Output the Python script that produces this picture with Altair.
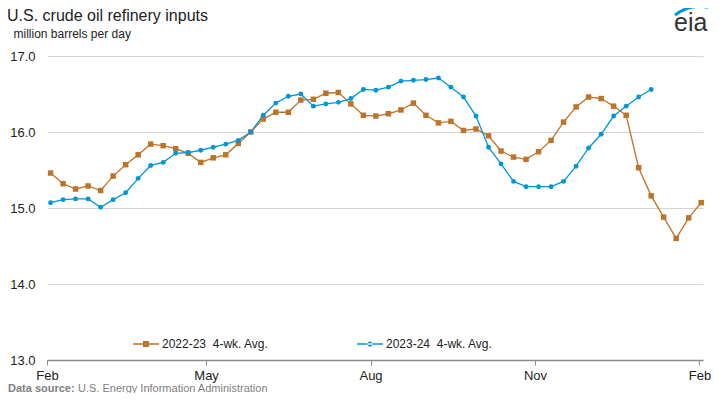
import altair as alt
import pandas as pd

# ---------------- data ----------------
title_text = "U.S. crude oil refinery inputs"
units_text = "million barrels per day"
source_bold = "Data source:"
source_text = "U.S. Energy Information Administration"
logo_text = "eia"
series_names = ["2022-23\u00a0 4-wk. Avg.", "2023-24\u00a0 4-wk. Avg."]
first_week = "2023-02-03"
y_ticks = [13, 14, 15, 16, 17]

brown_vals = [15.46, 15.32, 15.25, 15.29, 15.23, 15.42, 15.57, 15.70, 15.84, 15.82,
              15.78, 15.72, 15.60, 15.66, 15.70, 15.85, 16.00, 16.17, 16.26, 16.26,
              16.42, 16.43, 16.51, 16.52, 16.37, 16.22, 16.21, 16.24, 16.29, 16.38,
              16.22, 16.12, 16.14, 16.02, 16.04, 15.95, 15.75, 15.67, 15.64, 15.74,
              15.89, 16.13, 16.33, 16.46, 16.44, 16.34, 16.22, 15.53, 15.16, 14.88,
              14.60, 14.87, 15.07]

blue_vals = [15.07, 15.11, 15.12, 15.12, 15.01, 15.11, 15.20, 15.39, 15.56, 15.60,
             15.72, 15.73, 15.76, 15.80, 15.84, 15.89, 16.00, 16.22, 16.38, 16.47,
             16.50, 16.34, 16.37, 16.39, 16.44, 16.56, 16.55, 16.59, 16.67, 16.68,
             16.69, 16.71, 16.59, 16.46, 16.21, 15.80, 15.58, 15.35, 15.28, 15.28,
             15.28, 15.35, 15.55, 15.79, 15.97, 16.21, 16.34, 16.46, 16.56]

# ---------------- styling ----------------
BROWN = "#BD732A"
BLUE = "#0096D7"
FONT = "Liberation Sans"

dates_b = pd.date_range(first_week, periods=len(brown_vals), freq="7D").strftime("%Y-%m-%d")
dates_u = pd.date_range(first_week, periods=len(blue_vals), freq="7D").strftime("%Y-%m-%d")
df_b = pd.DataFrame({"date": dates_b, "value": brown_vals, "series": series_names[0]})
df_u = pd.DataFrame({"date": dates_u, "value": blue_vals, "series": series_names[1]})


def dt(y, m, d):
    return alt.DateTime(year=y, month=m, date=d, utc=True)


X = alt.X(
    "date:T",
    title=None,
    scale=alt.Scale(type="utc", domain=[dt(2023, 2, 1), dt(2024, 2, 3)]),
    axis=alt.Axis(
        values=[dt(2023, 2, 1), dt(2023, 5, 1), dt(2023, 8, 1), dt(2023, 11, 1), dt(2024, 2, 1)],
        format="%b", grid=False, domainColor="#8c8c8c", domainWidth=1.5,
        tickColor="#8c8c8c", tickSize=5, labelPadding=4, labelFontSize=13,
        labelColor="#222222", labelFont=FONT, labelFlush=False,
    ),
)
Y = alt.Y(
    "value:Q",
    scale=alt.Scale(domain=[13, 17]),
    axis=alt.Axis(
        values=y_ticks, format=".1f", domain=False, ticks=False, labelPadding=12,
        labelFontSize=13, labelColor="#222222", labelFont=FONT,
        gridColor="#d4d4d4", gridWidth=1,
        title=units_text, titleAngle=0, titleAlign="left", titleBaseline="alphabetic",
        titleX=-34, titleY=-19, titleFontSize=12, titleFontWeight="normal",
        titleFont=FONT, titleColor="#222222",
    ),
)

line_b = alt.Chart(df_b).mark_line(color=BROWN, strokeWidth=1.3).encode(x=X, y=Y)
pts_b = alt.Chart(df_b).mark_square(color=BROWN, size=30, opacity=1).encode(x=X, y=Y)
line_u = alt.Chart(df_u).mark_line(color=BLUE, strokeWidth=1.3).encode(x=X, y=Y)
pts_u = alt.Chart(df_u).mark_circle(color=BLUE, size=24, opacity=1).encode(x=X, y=Y)

sq_path = "M-1,-0.05H1V0.05H-1Z M-0.23,-0.23H0.23V0.23H-0.23Z"
ci_path = "M-1,-0.05H1V0.05H-1Z M-0.2,0A0.2,0.2,0,1,0,0.2,0A0.2,0.2,0,1,0,-0.2,0Z"

leg_props = dict(
    title=None, orient="none", legendX=86, legendY=275, direction="horizontal",
    columns=2, columnPadding=88, symbolSize=676, symbolStrokeWidth=0,
    symbolOpacity=1, labelFontSize=12, labelFont=FONT, labelColor="#222222",
    labelOffset=3, padding=0,
)
# invisible marks (size 0) that only carry the legend
legend_layer = alt.Chart(pd.DataFrame({"series": series_names})).mark_point(
    filled=True, opacity=1, size=0
).encode(
    x=alt.value(100), y=alt.value(250),
    color=alt.Color("series:N", scale=alt.Scale(domain=series_names, range=[BROWN, BLUE]),
                    legend=alt.Legend(**leg_props)),
    shape=alt.Shape("series:N", scale=alt.Scale(domain=series_names, range=[sq_path, ci_path]),
                    legend=alt.Legend(**leg_props)),
)

src1 = alt.Chart(pd.DataFrame({"t": [source_bold]})).mark_text(
    align="left", baseline="alphabetic", font=FONT, fontSize=11, fontWeight="bold", color="#808080"
).encode(text="t:N", x=alt.value(-39), y=alt.value(336))
src2 = alt.Chart(pd.DataFrame({"t": [source_text]})).mark_text(
    align="left", baseline="alphabetic", font=FONT, fontSize=11, color="#808080"
).encode(text="t:N", x=alt.value(31), y=alt.value(336))

logo = alt.Chart(pd.DataFrame({"t": [logo_text]})).mark_text(
    align="left", baseline="alphabetic", font=FONT, fontSize=25, color="#333333"
).encode(text="t:N", x=alt.value(627), y=alt.value(-25))
swoosh = alt.Chart(pd.DataFrame({"a": [0]})).mark_arc(
    color=BLUE, radius=39, radius2=42, theta=5.62, theta2=6.48
).encode(x=alt.value(653), y=alt.value(-9))

chart = alt.layer(
    line_b, line_u, pts_b, pts_u, legend_layer, src1, src2, logo, swoosh
).properties(
    width=656, height=304,
    padding={"left": 39, "top": 48, "right": 8, "bottom": 33},
    autosize=alt.AutoSizeParams(type="none"),
    title=alt.TitleParams(
        title_text, anchor="start", frame="group", dx=-40, dy=23, offset=4,
        fontSize=16, font=FONT, fontWeight="normal", color="#222222",
    ),
).configure_view(stroke=None)

chart.save("out.html", embed_options={"renderer": "svg", "actions": False})
